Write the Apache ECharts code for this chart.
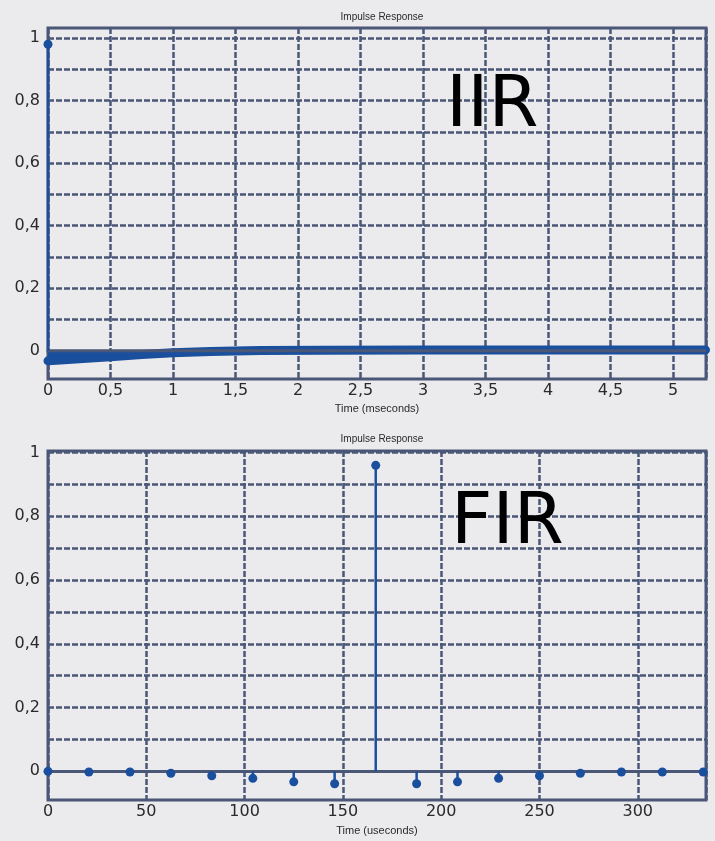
<!DOCTYPE html>
<html>
<head>
<meta charset="utf-8">
<script src="https://cdn.jsdelivr.net/npm/echarts@6/dist/echarts.min.js"></script>
<style>
html,body{margin:0;padding:0;background:#ebebee;}
#c{width:715px;height:841px;}
</style>
</head>
<body>
<div id="c"></div>
<script>
// ---- data ----
const iirImpulse = [[0, 0.98]];
const iirTailT = [0, 0.1, 0.25, 0.5, 0.75, 1.0, 1.3, 1.7, 2.2, 3, 4, 5, 5.26];
const iirTailV = [-0.032, -0.029, -0.025, -0.019, -0.012, -0.006, -0.002, 0.001, 0.002, 0.003, 0.003, 0.003, 0.003];
const firT = [0, 20.8, 41.7, 62.5, 83.3, 104.2, 125, 145.8, 166.7, 187.5, 208.3, 229.2, 250, 270.8, 291.7, 312.5, 333.3];
const firV = [0, -0.002, -0.002, -0.006, -0.014, -0.022, -0.033, -0.039, 0.96, -0.039, -0.033, -0.022, -0.014, -0.006, -0.002, -0.002, -0.002];
const yGridTicks = [0, 0.1, 0.2, 0.3, 0.4, 0.5, 0.6, 0.7, 0.8, 0.9, 1];
const yLabelTicks = [0, 0.2, 0.4, 0.6, 0.8, 1];
const titleText = 'Impulse Response';
const xNameTop = 'Time (mseconds)';
const xNameBottom = 'Time (useconds)';

// ---- styles ----
const BLUE = '#1a4f9e';
const GRIDC = '#4a5777';
const TXT = '#2a2a2a';
const comma = v => String(v).replace('.', ',');

function stemRender(params, api) {
  const x = api.value(0), y = api.value(1);
  const p0 = api.coord([x, 0]);
  const p1 = api.coord([x, y]);
  return {
    type: 'group',
    children: [
      {type: 'line', shape: {x1: p0[0], y1: p0[1], x2: p1[0], y2: p1[1]}, style: {stroke: BLUE, lineWidth: 2.5}},
      {type: 'circle', shape: {cx: p1[0], cy: p1[1], r: 4.5}, style: {fill: BLUE}}
    ]
  };
}

function xAxisMain(gi, max, interval, name, gap) {
  return {
    type: 'value', gridIndex: gi, min: 0, max: max, interval: interval, position: 'bottom',
    name: name, nameLocation: 'middle', nameGap: gap,
    nameTextStyle: {fontFamily: 'Liberation Sans', fontSize: 11, color: TXT},
    axisLine: {show: false, onZero: false},
    axisTick: {show: false},
    axisLabel: {fontFamily: 'DejaVu Sans', fontSize: 16, color: TXT, margin: 4, showMaxLabel: false,
      formatter: v => comma(v)},
    splitLine: {show: true, lineStyle: {color: GRIDC, width: 2.5, type: [6, 2]}}
  };
}
function xAxisZero(gi, max) {
  return {
    type: 'value', gridIndex: gi, min: 0, max: max, position: 'bottom',
    axisLine: {show: true, onZero: true, lineStyle: {color: GRIDC, width: 3}},
    axisTick: {show: false}, axisLabel: {show: false}, splitLine: {show: false}
  };
}
function yAxisDef(gi, min, max) {
  return {
    type: 'value', gridIndex: gi, min: min, max: max,
    axisLine: {show: false},
    axisTick: {show: false, customValues: yGridTicks},
    axisLabel: {fontFamily: 'DejaVu Sans', fontSize: 16, color: TXT, margin: 8,
      customValues: yLabelTicks, formatter: v => comma(v)},
    splitLine: {show: true, lineStyle: {color: GRIDC, width: 2.5, type: [6, 2]}}
  };
}

const chart = echarts.init(document.getElementById('c'), null, {renderer: 'canvas'});
chart.setOption({
  backgroundColor: '#ebebee',
  animation: false,
  title: [
    {text: titleText, left: 377, top: 7, textAlign: 'center',
      textStyle: {fontFamily: 'Liberation Sans', fontSize: 10, fontWeight: 'normal', color: TXT}},
    {text: titleText, left: 377, top: 429, textAlign: 'center',
      textStyle: {fontFamily: 'Liberation Sans', fontSize: 10, fontWeight: 'normal', color: TXT}}
  ],
  grid: [
    {left: 48, top: 28, width: 658, height: 351, show: true, borderColor: GRIDC, borderWidth: 3, backgroundColor: 'transparent'},
    {left: 48, top: 451, width: 658, height: 349, show: true, borderColor: GRIDC, borderWidth: 3, backgroundColor: 'transparent'}
  ],
  xAxis: [
    xAxisMain(0, 5.264, 0.5, xNameTop, 24),
    xAxisZero(0, 5.264),
    xAxisMain(1, 334.7, 50, xNameBottom, 25),
    xAxisZero(1, 334.7)
  ],
  yAxis: [
    yAxisDef(0, -0.09, 1.032),
    yAxisDef(1, -0.09, 1.005)
  ],
  graphic: [
    {type: 'text', left: 446, top: 71, z: 10,
      style: {text: 'IIR', fontFamily: 'DejaVu Sans', fontSize: 72, fill: '#000'}},
    {type: 'text', left: 451, top: 488, z: 10,
      style: {text: 'FIR', fontFamily: 'DejaVu Sans', fontSize: 72, fill: '#000'}}
  ],
  series: [
    {
      type: 'line', xAxisIndex: 0, yAxisIndex: 0, z: 3,
      data: iirTailT.map((t, i) => [t, iirTailV[i]]),
      showSymbol: false, symbol: 'none',
      lineStyle: {color: BLUE, width: 9, cap: 'round'},
      areaStyle: {color: BLUE, opacity: 1}
    },
    {
      type: 'line', xAxisIndex: 1, yAxisIndex: 0, z: 4,
      data: [[0, 0], [5.264, 0]], symbol: 'none',
      lineStyle: {color: GRIDC, width: 3}, silent: true
    },
    {
      type: 'custom', xAxisIndex: 0, yAxisIndex: 0, z: 5,
      renderItem: stemRender, data: iirImpulse
    },
    {
      type: 'custom', xAxisIndex: 2, yAxisIndex: 1, z: 5,
      renderItem: stemRender,
      data: firT.map((t, i) => [t, firV[i]])
    }
  ]
});
</script>
</body>
</html>
